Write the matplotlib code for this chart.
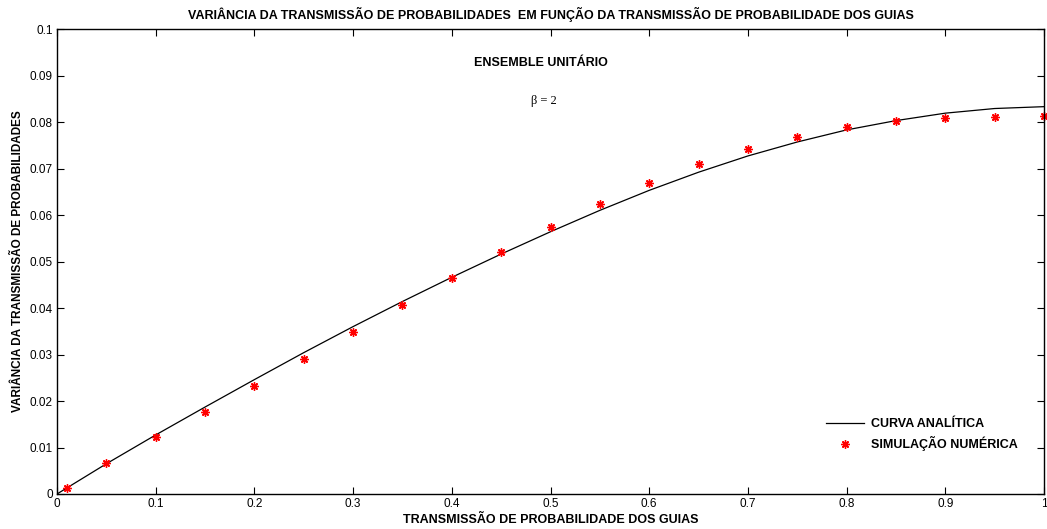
import matplotlib
matplotlib.use("Agg")
import matplotlib.pyplot as plt
from matplotlib.ticker import FuncFormatter, MultipleLocator

plt.rcParams['font.family'] = ['Liberation Sans', 'DejaVu Sans']

# Analytic curve
x_curve = [0.0, 0.05, 0.1, 0.15, 0.2, 0.25, 0.3, 0.35, 0.4, 0.45, 0.5,
           0.55, 0.6, 0.65, 0.7, 0.75, 0.8, 0.85, 0.9, 0.95, 1.0]
y_curve = [0.0, 0.0065, 0.0127, 0.0187, 0.0246, 0.0304, 0.0360, 0.0414, 0.0466,
           0.0516, 0.0564, 0.0610, 0.0653, 0.0692, 0.0727, 0.0757, 0.0783,
           0.0803, 0.0819, 0.0829, 0.0833]

# Numerical simulation points
x_sim = [0.01, 0.05, 0.1, 0.15, 0.2, 0.25, 0.3, 0.35, 0.4, 0.45, 0.5,
         0.55, 0.6, 0.65, 0.7, 0.75, 0.8, 0.85, 0.9, 0.95, 1.0]
y_sim = [0.0013, 0.0067, 0.0123, 0.0177, 0.0233, 0.0290, 0.0349, 0.0407, 0.0465,
         0.0521, 0.0575, 0.0624, 0.0669, 0.0709, 0.0742, 0.0768, 0.0789,
         0.0802, 0.0809, 0.0811, 0.0813]

fig = plt.figure(figsize=(10.47, 5.29), dpi=100)
ax = fig.add_axes([57/1047, 1-494/529, (1044-57)/1047, (494-29)/529])

ax.plot(x_curve, y_curve, color='black', lw=0.9, label='CURVA ANALÍTICA')
ax.plot(x_sim, y_sim, ls='none', marker=(8, 2, 0), ms=6, mec='red', mfc='red',
        mew=1.0, label='SIMULAÇÃO NUMÉRICA', clip_on=False)

ax.set_xlim(0, 1)
ax.set_ylim(0, 0.1)
ax.xaxis.set_major_locator(MultipleLocator(0.1))
ax.yaxis.set_major_locator(MultipleLocator(0.01))
fmt = FuncFormatter(lambda v, p: ('%.2f' % v).rstrip('0').rstrip('.') if v != 0 else '0')
ax.xaxis.set_major_formatter(fmt)
ax.yaxis.set_major_formatter(fmt)
ax.tick_params(direction='in', length=5, width=0.8, top=True, right=True,
               labelsize=8.5, pad=3)
for s in ax.spines.values():
    s.set_linewidth(1.0)

ax.set_title('VARIÂNCIA DA TRANSMISSÃO DE PROBABILIDADES  EM FUNÇÃO DA TRANSMISSÃO DE PROBABILIDADE DOS GUIAS',
             fontsize=9, fontweight='bold', pad=7)
ax.set_xlabel('TRANSMISSÃO DE PROBABILIDADE DOS GUIAS', fontsize=9, fontweight='bold', labelpad=2.5)
ax.set_ylabel('VARIÂNCIA DA TRANSMISSÃO DE PROBABILIDADES', fontsize=8.5, fontweight='bold', labelpad=4)

ax.text(0.49, 0.927, 'ENSEMBLE UNITÁRIO', transform=ax.transAxes, ha='center', va='center',
        fontsize=9, fontweight='bold')
ax.text(0.493, 0.845, 'β = 2', transform=ax.transAxes, ha='center', va='center',
        fontsize=9, family=['Liberation Serif', 'DejaVu Serif'])

leg = ax.legend(loc='lower right', bbox_to_anchor=(0.985, 0.068), frameon=False,
                prop={'size': 9, 'weight': 'bold'}, handlelength=3.0, handletextpad=0.6,
                labelspacing=0.45)

fig.savefig('out.png', dpi=100)
